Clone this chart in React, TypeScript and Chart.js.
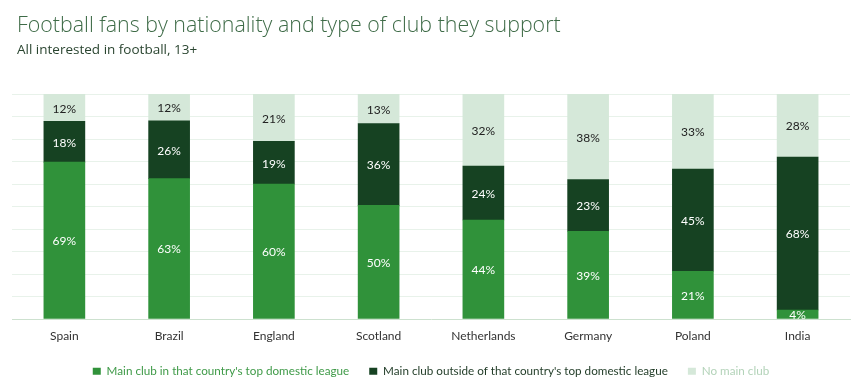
import { useEffect, useRef } from "react";
import { Chart, registerables } from "chart.js";

Chart.register(...registerables);

const categories = ["Spain", "Brazil", "England", "Scotland", "Netherlands", "Germany", "Poland", "India"];
const topLeague = [69, 63, 60, 50, 44, 39, 21, 4];
const outsideLeague = [18, 26, 19, 36, 24, 23, 45, 68];
const noMainClub = [12, 12, 21, 13, 32, 38, 33, 28];
const seriesNames = [
  "Main club in that country's top domestic league",
  "Main club outside of that country's top domestic league",
  "No main club",
];
const titleText = "Football fans by nationality and type of club they support";
const subtitleText = "All interested in football, 13+";

const barColors = ["#30923a", "#164222", "#d5e8d9"];
const legendTextColors = ["#3f9a48", "#1f3a25", "#b3d3b9"];
const labelColors = ["#ffffff", "#ffffff", "#222222"];
const gridColor = "#e8f2ea";
const axisColor = "#cde1cf";

const rawSeries = [topLeague, outsideLeague, noMainClub];
const totals = categories.map((_, i) => rawSeries.reduce((s, arr) => s + arr[i], 0));
const shares = rawSeries.map((arr) => arr.map((v, i) => (v / totals[i]) * 100));

const segmentLabels = {
  id: "segmentLabels",
  afterDatasetsDraw(chart: any) {
    const { ctx, chartArea } = chart;
    ctx.save();
    ctx.beginPath();
    ctx.rect(chartArea.left, chartArea.top, chartArea.right - chartArea.left, chartArea.bottom - chartArea.top);
    ctx.clip();
    ctx.font = "12px Lato";
    ctx.textAlign = "center";
    ctx.textBaseline = "middle";
    chart.data.datasets.forEach((_: any, di: number) => {
      const meta = chart.getDatasetMeta(di);
      meta.data.forEach((bar: any, i: number) => {
        const { x, y, base } = bar.getProps(["x", "y", "base"], true);
        ctx.fillStyle = labelColors[di];
        ctx.fillText(rawSeries[di][i] + "%", x, (y + base) / 2 + 1);
      });
    });
    ctx.restore();
  },
};

export default function App() {
  const ref = useRef<HTMLCanvasElement>(null);
  useEffect(() => {
    if (!ref.current) return;
    const chart = new Chart(ref.current, {
      type: "bar",
      data: {
        labels: categories,
        datasets: shares.map((data, i) => ({
          label: seriesNames[i],
          data,
          backgroundColor: barColors[i],
          borderWidth: 0,
          barThickness: 41,
        })),
      },
      options: {
        responsive: false,
        animation: false,
        layout: { padding: { top: 94, left: 12, right: 5, bottom: 4 } },
        scales: {
          x: {
            stacked: true,
            grid: { display: false, drawTicks: false },
            border: { display: true, color: axisColor, width: 1 },
            ticks: { color: "#333333", font: { family: "Lato", size: 12 }, padding: 10.3, maxRotation: 0 },
            afterFit: (scale: any) => {
              scale.height = 26.3;
            },
          },
          y: {
            stacked: true,
            min: 0,
            max: 100,
            ticks: { display: false, stepSize: 10 },
            border: { display: false },
            grid: {
              drawTicks: false,
              color: (c: any) => (c.tick && c.tick.value === 0 ? "rgba(0,0,0,0)" : gridColor),
            },
          },
        },
        plugins: {
          title: { display: false },
          tooltip: { enabled: false },
          legend: {
            position: "bottom",
            align: "center",
            labels: {
              boxWidth: 8,
              boxHeight: 7,
              padding: 20,
              font: { family: "Lato", size: 11.7 },
              generateLabels: (c: any) =>
                (Chart.defaults.plugins.legend.labels as any).generateLabels(c).map((it: any, i: number) => ({
                  ...it,
                  fontColor: legendTextColors[i],
                  lineWidth: 0,
                  strokeStyle: "rgba(0,0,0,0)",
                })),
            },
          },
        },
      },
      plugins: [segmentLabels],
    } as any);
    return () => chart.destroy();
  }, []);

  return (
    <div style={{ position: "absolute", left: 0, top: 0, width: 855, height: 391, background: "#fff", overflow: "hidden" }}>
      <canvas ref={ref} width={855} height={391} style={{ display: "block" }} />
      <div
        style={{
          position: "absolute",
          left: 17,
          top: 12.5,
          fontFamily: "'Open Sans'",
          fontWeight: 300,
          fontSize: 21.4,
          lineHeight: "21.4px",
          color: "#3e6b47",
          whiteSpace: "nowrap",
        }}
      >
        {titleText}
      </div>
      <div
        style={{
          position: "absolute",
          left: 17,
          top: 42.7,
          fontFamily: "'Open Sans'",
          fontSize: 13.5,
          lineHeight: "13.5px",
          color: "#2a4530",
          whiteSpace: "nowrap",
        }}
      >
        {subtitleText}
      </div>
    </div>
  );
}
